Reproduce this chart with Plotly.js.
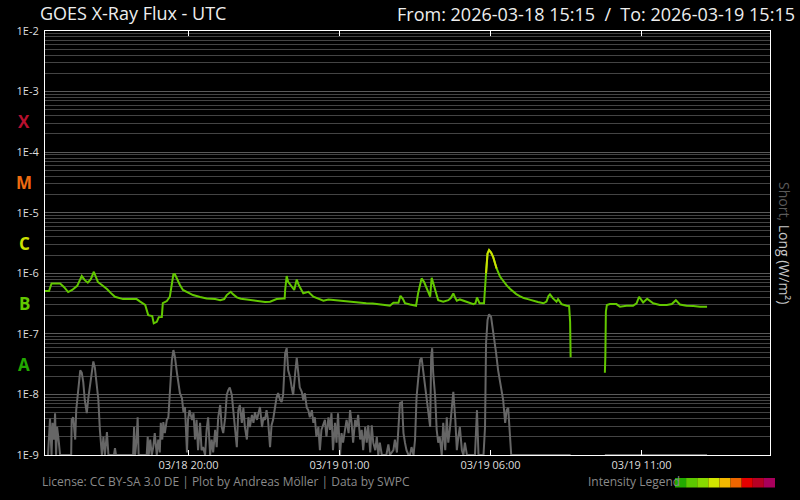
<!DOCTYPE html>
<html><head><meta charset="utf-8">
<script src="https://cdn.plot.ly/plotly-3.0.1.min.js"></script>
<style>html,body{margin:0;padding:0;background:#000;}#chart{width:800px;height:500px;}</style>
</head><body><div id="chart"></div>
<script>
// Time window (UTC)
const startUTC = [2026, 2, 18, 15, 15];
const windowMinutes = 1440;
const firstTickUTC = [2026, 2, 18, 20, 0];
const tickStepHours = 5;

// GOES long channel (0.1-0.8 nm), minutes after start, W/m2
const longMinutes = [
  0,8,13,30,38,46,54,64,73,79,
  85,91,97,101,105,113,123,131,139,155,
  169,182,189,199,205,213,216,222,226,232,
  234,242,248,252,255,258,262,268,274,284,
  294,308,321,338,348,356,361,369,373,381,
  389,401,413,427,437,447,460,473,476,477,
  480,483,490,495,500,504,513,523,533,542,
  553,563,576,586,600,612,626,638,651,665,
  675,685,692,702,706,711,715,725,737,741,
  748,753,758,765,768,773,777,781,791,801,
  806,811,815,818,824,838,851,855,858,863,
  872,876,879,882,886,890,897,904,910,917,
  924,930,936,943,951,959,970,979,990,996,
  1000,1003,1009,1016,1019,1026,1036,1041,1043,1044,
  1078,1112,1113,1114,1116,1122,1129,1135,1142,1155,
  1168,1175,1180,1184,1188,1196,1203,1208,1221,1235,
  1245,1253,1261,1274,1288,1301,1315
];
const longFlux = [
  5.1e-7,5.1e-7,6.8e-7,6.8e-7,5.9e-7,4.9e-7,5.3e-7,6.2e-7,9.0e-7,7.7e-7,
  7.0e-7,8.0e-7,1.06e-6,9.0e-7,7.2e-7,6.4e-7,5.5e-7,4.7e-7,4.1e-7,3.75e-7,
  3.7e-7,3.75e-7,3.4e-7,3.0e-7,2.04e-7,1.97e-7,1.49e-7,1.58e-7,1.89e-7,1.9e-7,
  3.22e-7,3.48e-7,4.1e-7,6.4e-7,9.6e-7,9.6e-7,8.0e-7,6.4e-7,5.3e-7,4.8e-7,
  4.37e-7,4.05e-7,3.85e-7,3.75e-7,3.6e-7,3.75e-7,4.37e-7,4.95e-7,4.54e-7,4.0e-7,
  3.8e-7,3.7e-7,3.55e-7,3.4e-7,3.35e-7,3.4e-7,3.75e-7,3.85e-7,3.85e-7,5.3e-7,
  9.0e-7,7.2e-7,6.0e-7,5.3e-7,7.9e-7,6.4e-7,4.66e-7,4.95e-7,4.1e-7,3.8e-7,
  3.52e-7,3.7e-7,3.6e-7,3.6e-7,3.48e-7,3.4e-7,3.3e-7,3.2e-7,3.17e-7,3.1e-7,
  3.0e-7,2.91e-7,3.26e-7,3.27e-7,4.26e-7,3.75e-7,3.2e-7,3.05e-7,2.91e-7,4.66e-7,
  8.24e-7,7.16e-7,5.63e-7,4.1e-7,8.43e-7,6.0e-7,4.71e-7,3.6e-7,3.4e-7,3.6e-7,
  3.9e-7,4.66e-7,3.9e-7,3.52e-7,3.7e-7,3.4e-7,3.1e-7,3.2e-7,4.0e-7,3.2e-7,
  3.2e-7,1.0e-6,2.13e-6,2.41e-6,2.2e-6,1.87e-6,1.2e-6,8.75e-7,7.43e-7,6.3e-7,
  5.5e-7,4.9e-7,4.54e-7,4.21e-7,3.9e-7,3.75e-7,3.48e-7,3.35e-7,3.2e-7,3.4e-7,
  4.2e-7,4.49e-7,3.85e-7,3.4e-7,3.75e-7,3.1e-7,2.91e-7,2.88e-7,1.58e-7,4.1e-8,
  null,2.28e-8,4.3e-8,2.32e-7,3.0e-7,3.1e-7,3.1e-7,3.1e-7,2.8e-7,2.91e-7,
  2.91e-7,3.2e-7,4.1e-7,3.6e-7,3.3e-7,3.8e-7,3.4e-7,3.2e-7,3.0e-7,3.0e-7,
  3.1e-7,3.6e-7,3.05e-7,2.91e-7,2.88e-7,2.8e-7,2.8e-7
];

// GOES short channel (0.05-0.4 nm), minutes after start, W/m2
const shortMinutes = [
  6,10,13,15,18,20,22,24,27,30,
  52,53,56,60,62,66,70,73,76,79,
  83,86,89,93,96,99,103,106,109,113,
  116,119,123,126,137,139,141,175,177,179,
  182,184,186,202,204,206,209,212,215,218,
  222,225,228,230,233,235,238,242,245,248,
  252,255,258,262,265,268,272,275,278,282,
  284,287,292,295,298,301,304,308,311,314,
  318,321,324,328,331,334,338,341,344,348,
  351,354,358,361,364,367,371,374,377,381,
  384,387,391,394,397,401,404,407,411,414,
  417,421,424,427,431,434,437,440,443,447,
  450,453,457,460,463,467,470,473,477,480,
  483,487,490,493,497,500,503,506,510,513,
  516,520,523,526,530,533,536,539,543,546,
  549,553,556,559,563,566,569,572,576,579,
  582,586,589,592,596,599,603,606,609,612,
  616,619,622,626,629,632,636,639,642,646,
  649,652,656,659,662,665,669,678,682,685,
  692,695,699,702,705,709,712,715,718,722,
  725,728,732,735,738,741,745,748,751,755,
  758,761,765,767,769,771,775,778,781,784,
  788,791,795,798,801,804,808,811,815,818,
  821,824,828,831,834,838,854,858,861,871,
  874,876,879,882,886,890,896,900,905,910,
  914,917,920,924,926,1044,1078,1112,1315
];
const shortFlux = [
  1e-9,4.0e-9,1e-9,3.4e-9,1.8e-9,4.9e-9,1e-9,2.9e-9,1.8e-9,1e-9,
  1e-9,3.8e-9,4.2e-9,1.8e-9,5.5e-9,1.18e-8,2.5e-8,2.3e-8,1.6e-8,8.1e-9,
  4.9e-9,8.7e-9,1.3e-8,2.7e-8,3.5e-8,2.8e-8,1.5e-8,8.1e-9,2.6e-9,1e-9,
  2.0e-9,1e-9,2.4e-9,1e-9,1e-9,1.3e-9,1e-9,1e-9,2.9e-9,1e-9,
  1.8e-9,4.2e-9,1e-9,1e-9,2.0e-9,1e-9,1.8e-9,1e-9,1.35e-9,2.3e-9,
  1e-9,1.8e-9,1.1e-9,3.4e-9,1.8e-9,3.5e-9,2.3e-9,3.8e-9,4.2e-9,1.18e-8,
  3.7e-8,5.4e-8,4.2e-8,2.3e-8,1.6e-8,1.05e-8,8.7e-9,5.1e-9,6.2e-9,1.1e-9,
  3.8e-9,5.5e-9,3.8e-9,4.9e-9,1.8e-9,3.8e-9,1.2e-9,3.4e-9,1.2e-9,1.35e-9,
  1e-9,2.6e-9,4.2e-9,1e-9,1.8e-9,1.1e-9,2.6e-9,1.35e-9,4.2e-9,6.7e-9,
  2.9e-9,2.3e-9,4.2e-9,9.8e-9,1.18e-8,1.3e-8,9.8e-9,5.5e-9,3.8e-9,1.35e-9,
  5.5e-9,6.7e-9,3.4e-9,6.0e-9,2.9e-9,1.8e-9,4.2e-9,2.9e-9,4.6e-9,3.4e-9,
  5.1e-9,3.8e-9,4.9e-9,6.2e-9,2.9e-9,4.2e-9,3.8e-9,5.5e-9,3.8e-9,1.35e-9,
  3.1e-9,3.8e-9,6.2e-9,9.0e-9,1.05e-8,8.1e-9,7.5e-9,9.8e-9,4.8e-8,5.8e-8,
  2.5e-8,1.9e-8,1.3e-8,9.8e-9,2.3e-8,4.0e-8,2.3e-8,1.3e-8,1.1e-8,8.1e-9,
  1.05e-8,6.0e-9,5.5e-9,4.2e-9,5.5e-9,3.4e-9,4.2e-9,2.0e-9,2.9e-9,1.2e-9,
  2.6e-9,3.4e-9,3.8e-9,2.0e-9,4.2e-9,2.6e-9,4.9e-9,1.2e-9,3.4e-9,1.6e-9,
  4.9e-9,1e-9,2.3e-9,1.6e-9,2.6e-9,3.8e-9,2.3e-9,5.5e-9,3.4e-9,1.6e-9,
  3.8e-9,2.9e-9,4.6e-9,1.8e-9,2.6e-9,1.2e-9,2.9e-9,1.6e-9,3.1e-9,1.1e-9,
  3.1e-9,1.6e-9,1.2e-9,2.0e-9,1e-9,1.6e-9,1e-9,1e-9,1.5e-9,1e-9,
  1.2e-9,1.8e-9,1.1e-9,2.9e-9,7.2e-9,7.5e-9,2.3e-9,1.6e-9,1.2e-9,1e-9,
  1e-9,1.35e-9,1e-9,1.8e-9,9.0e-9,1.7e-8,3.7e-8,4.0e-8,2.5e-8,1.5e-8,
  9.0e-9,6.2e-9,2.9e-9,4.2e-8,5.8e-8,2.3e-8,9.0e-9,2.6e-9,1.6e-9,2.0e-9,
  1e-9,3.4e-9,1.2e-9,4.2e-9,1.6e-9,2.6e-9,7.2e-9,1.1e-8,3.8e-9,1.2e-9,
  2.0e-9,2.9e-9,1.2e-9,1e-9,1.6e-9,1e-9,1e-9,5.5e-9,1e-9,1e-9,
  2.9e-9,7.0e-8,1.7e-7,2.1e-7,1.9e-7,1.16e-7,4.8e-8,2.5e-8,1.5e-8,8.1e-9,
  3.4e-9,5.5e-9,6.0e-9,1.6e-9,1e-9,1e-9,null,1e-9,1e-9
];

// Axis labels and flare classes
const decadeVals = [1e-9,1e-8,1e-7,1e-6,1e-5,1e-4,1e-3,1e-2];
const decadeLabels = ['1E-9','1E-8','1E-7','1E-6','1E-5','1E-4','1E-3','1E-2'];
const classLetters = ['A','B','C','M','X'];
const classLevels = [1e-8,1e-7,1e-6,1e-5,1e-4];
const classColors = ['#22a800','#62c800','#cce000','#ee6a10','#b8102e'];
const legendColors = ['#22aa00','#5cc800','#88d800','#d2e600','#f4b800','#ee6600','#e40000','#b80024','#a8005c'];

const titleText = 'GOES X-Ray Flux - UTC';
const rangeText = 'From: 2026-03-18 15:15&nbsp;&nbsp;/&nbsp;&nbsp;To: 2026-03-19 15:15';
const footerText = 'License: CC BY-SA 3.0 DE | Plot by Andreas Möller | Data by SWPC';
const legendText = 'Intensity Legend';

// ---------- build ----------
const base = Date.UTC(...startUTC);
const toTime = m => base + m * 60000;
const longX = longMinutes.map(toTime);
const shortX = shortMinutes.map(toTime);
const cLevel = 1e-6;
const longHigh = longFlux.map(v => (v !== null && v >= cLevel) ? v : null);

const minorVals = [];
for (let e = -9; e < -2; e++) for (let k = 2; k <= 9; k++) minorVals.push(k * Math.pow(10, e));

const W = 800, H = 500, L = 45, R = 30, T = 31, B = 45;
const pw = W - L - R, ph = H - T - B;
const px = x => (x - L) / pw;
const py = y => (H - B - y) / ph;

const font = 'Open Sans, Noto Sans, sans-serif';

const traces = [
  {x: shortX, y: shortFlux, type: 'scatter', mode: 'lines', line: {color: '#666666', width: 2}, hoverinfo: 'skip'},
  {x: longX, y: longFlux, type: 'scatter', mode: 'lines', line: {color: '#62c800', width: 2}, hoverinfo: 'skip'},
  {x: longX, y: longHigh, type: 'scatter', mode: 'lines', line: {color: '#cce000', width: 2}, hoverinfo: 'skip'}
];

const annotations = [
  {text: rangeText, xref: 'paper', yref: 'paper', x: px(797), y: py(14), xanchor: 'right', yanchor: 'middle', showarrow: false, font: {family: font, size: 18, color: '#eeeeee'}},
  {text: '<span style="color:#5a5a5a">Short,</span> Long (W/m²)', xref: 'paper', yref: 'paper', x: px(785), y: py(243), xanchor: 'center', yanchor: 'middle', textangle: 90, showarrow: false, font: {family: font, size: 14, color: '#c8c8c8'}},
  {text: footerText, xref: 'paper', yref: 'paper', x: px(40), y: py(481), xanchor: 'left', yanchor: 'middle', showarrow: false, font: {family: font, size: 12, color: '#8a8a8a'}},
  {text: legendText, xref: 'paper', yref: 'paper', x: px(586), y: py(481), xanchor: 'left', yanchor: 'middle', showarrow: false, font: {family: font, size: 12, color: '#8a8a8a'}}
];
classLetters.forEach((c, i) => annotations.push({
  text: '<b>' + c + '</b>', xref: 'paper', yref: 'y', x: px(24), y: Math.log10(classLevels[i]) + 0.5,
  xanchor: 'center', yanchor: 'middle', showarrow: false, font: {family: font, size: 17, color: classColors[i]}
}));

const shapes = legendColors.map((c, i) => ({
  type: 'rect', xref: 'paper', yref: 'paper', layer: 'above',
  x0: px(675 + i * 100 / 9), x1: px(675 + (i + 1) * 100 / 9), y0: py(487.5), y1: py(478),
  fillcolor: c, line: {width: 0}
}));

const layout = {
  width: W, height: H,
  margin: {l: L, r: R, t: T, b: B},
  paper_bgcolor: '#000', plot_bgcolor: '#000',
  showlegend: false,
  font: {family: font, color: '#dddddd'},
  title: {text: titleText, xref: 'container', yref: 'container', x: 40 / W, y: 1 - 14 / H, xanchor: 'left', yanchor: 'middle', font: {family: font, size: 18, color: '#eeeeee'}},
  xaxis: {
    type: 'date', range: [base, toTime(windowMinutes)],
    tick0: Date.UTC(...firstTickUTC), dtick: tickStepHours * 3600000,
    tickformat: '%m/%d %H:%M', ticks: 'inside', ticklen: 5, tickcolor: '#ffffff', tickwidth: 1,
    showline: true, linecolor: '#ffffff', linewidth: 1, mirror: 'ticks',
    showgrid: false, zeroline: false, tickfont: {family: font, size: 11, color: '#dddddd'}
  },
  yaxis: {
    type: 'log', range: [-9, -2],
    tickmode: 'array', tickvals: decadeVals, ticktext: decadeLabels, ticks: '',
    showgrid: true, gridcolor: '#5a5a5a', gridwidth: 1,
    minor: {tickmode: 'array', tickvals: minorVals, showgrid: true, gridcolor: '#444444', gridwidth: 1, ticks: ''},
    showline: true, linecolor: '#ffffff', linewidth: 1, mirror: true, zeroline: false,
    tickfont: {family: font, size: 11, color: '#dddddd'}, ticklabelstandoff: 3
  },
  annotations: annotations,
  shapes: shapes
};

Plotly.newPlot('chart', traces, layout, {staticPlot: true, displayModeBar: false});
</script>
</body></html>
